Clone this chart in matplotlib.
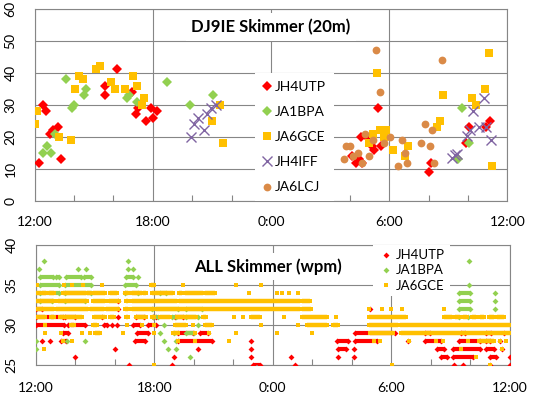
import matplotlib

matplotlib.use("Agg")
import matplotlib.pyplot as plt

plt.rcParams["font.family"] = ["Lato", "DejaVu Sans"]

# ---- palette (Excel 2007 defaults) ----------------------------------------------
RED = "#FF0000"
GREEN = "#92D050"
GOLD = "#FFC000"
PURPLE = "#8064A2"
ORANGE = "#DA8A47"
GRID = "#868686"

# x is hours after 12:00 (0 = 12:00, 12 = 0:00, 24 = next day 12:00)
TICK_HOURS = [0, 6, 12, 18, 24]
TICK_LABELS = ["12:00", "18:00", "0:00", "6:00", "12:00"]
MINOR_HOURS = [2, 4, 8, 10, 14, 16, 20, 22]

# ---- top panel: DJ9IE skimmer (20m), (hour, wpm) --------------------------------
JH4UTP_T = [(0.22, 12), (0.41, 30), (0.57, 28), (0.78, 21), (0.95, 22), (1.18, 23),
            (1.34, 13), (3.57, 36), (3.57, 33), (4.17, 41), (4.96, 34), (5.13, 27),
            (5.25, 29), (5.64, 25), (5.9, 29), (6.0, 26), (6.2, 28),
            (16.1, 14), (16.3, 12), (16.45, 13), (16.62, 12), (16.57, 20), (16.88, 20),
            (17.13, 17), (17.25, 16), (17.6, 17), (17.44, 29), (20.0, 9), (20.15, 12),
            (21.9, 18), (22.08, 23), (22.93, 23), (23.12, 25)]
JA1BPA_T = [(0.41, 15), (0.61, 17), (0.81, 15), (1.03, 21), (1.58, 38), (1.9, 29),
            (2.0, 30), (2.5, 33), (2.6, 35), (4.67, 32), (4.8, 33), (5.18, 31),
            (6.7, 37), (7.9, 30), (9.05, 33), (21.5, 13), (21.7, 29), (22.03, 18)]
JA6GCE_T = [(0.03, 24), (0.13, 28), (1.25, 20), (1.86, 19), (2.07, 35), (2.27, 39),
            (2.47, 38), (3.12, 41), (3.32, 42), (3.9, 37), (4.1, 35), (4.6, 35),
            (5.01, 39), (5.22, 36), (5.46, 30), (5.57, 32), (8.98, 25), (9.39, 30),
            (9.54, 18), (17.37, 40), (17.16, 21), (17.0, 18), (17.56, 22), (17.86, 22),
            (17.76, 20), (18.2, 16), (18.94, 17), (18.8, 14), (20.76, 33), (20.57, 25),
            (20.42, 23), (22.2, 32), (22.4, 30), (22.86, 35), (23.06, 46), (23.2, 11)]
JH4IFF_T = [(7.93, 20), (8.1, 24), (8.3, 26), (8.6, 22), (8.75, 27), (8.95, 29),
            (9.2, 30), (21.17, 13.5), (21.32, 14.3), (21.45, 14.6), (21.95, 20.3),
            (22.13, 22), (22.28, 28), (22.55, 23), (22.8, 32), (22.94, 23), (23.15, 19)]
JA6LCJ_T = [(15.69, 13), (15.83, 17), (16.03, 17), (16.17, 14), (16.42, 15),
            (16.62, 12), (16.79, 21), (16.96, 14), (17.18, 19), (17.32, 47), (17.52, 34),
            (17.72, 18), (18.03, 20), (18.43, 11), (18.66, 19), (18.78, 15), (18.91, 12),
            (19.6, 18), (19.8, 24), (20.06, 17), (20.17, 22), (20.27, 12), (20.67, 44)]

# ---- bottom panel: ALL skimmer (wpm), runs of spots (wpm, first hour, last hour) --
JH4UTP_B = [(33, 4.18, 4.18), (32, 0.0, 0.3), (32, 4.18, 4.18), (32, 16.93, 16.93),
            (31, 0.0, 1.4), (31, 1.48, 2.0), (31, 3.35, 3.35), (31, 4.18, 4.18),
            (31, 5.05, 5.48), (31, 5.93, 6.1), (31, 7.04, 7.46),
            (30, 0.0, 1.43), (30, 1.65, 2.5), (30, 3.46, 3.6), (30, 3.85, 3.85),
            (30, 4.1, 4.1), (30, 4.9, 5.3), (30, 5.7, 6.1),
            (29, 1.37, 1.65), (29, 5.11, 5.7), (29, 7.22, 7.98), (29, 8.3, 8.7),
            (29, 16.17, 18.2), (29, 19.7, 19.96), (29, 21.5, 21.7), (29, 22.8, 23.05),
            (29, 23.7, 23.7),
            (28, 0.3, 0.3), (28, 0.73, 0.73), (28, 1.3, 1.55), (28, 5.03, 5.53),
            (28, 7.22, 8.91), (28, 10.9, 10.9), (28, 15.24, 15.78), (28, 16.17, 17.27),
            (28, 18.84, 18.84), (28, 19.7, 20.5), (28, 21.4, 22.5), (28, 22.8, 23.0),
            (28, 23.5, 23.5),
            (27, 4.0, 4.0), (27, 8.23, 8.23), (27, 10.9, 10.9), (27, 15.3, 15.7),
            (27, 16.1, 16.1), (27, 20.3, 20.64), (27, 21.14, 22.5), (27, 22.8, 23.2),
            (27, 23.6, 23.6),
            (26, 2.0, 2.0), (26, 7.0, 7.0), (26, 10.9, 10.9), (26, 12.91, 12.91),
            (26, 15.32, 15.32), (26, 16.1, 16.1), (26, 20.5, 20.8), (26, 21.1, 22.15),
            (26, 23.0, 23.3), (26, 24.0, 24.0),
            (25, 4.7, 4.7), (25, 6.9, 6.9), (25, 11.0, 11.36), (25, 13.13, 13.13),
            (25, 21.15, 21.15), (25, 21.6, 21.6), (25, 23.0, 23.0), (25, 24.0, 24.0)]
JA1BPA_B = [(38, 0.42, 0.42), (38, 4.66, 4.66), (38, 21.95, 21.95),
            (37, 0.17, 0.17), (37, 2.16, 2.16), (37, 2.55, 2.55), (37, 4.66, 4.66),
            (37, 4.91, 4.91),
            (36, 0.2, 0.9), (36, 1.05, 1.2), (36, 1.55, 2.3), (36, 2.45, 2.8),
            (36, 4.55, 4.9), (36, 5.2, 5.2),
            (35, 0.2, 1.2), (35, 1.5, 2.8), (35, 4.5, 5.1), (35, 21.95, 21.95),
            (34, 0.2, 1.2), (34, 1.5, 2.8), (34, 4.5, 5.2), (34, 6.3, 6.6),
            (34, 21.4, 22.0), (34, 23.22, 23.22),
            (33, 0.2, 0.8), (33, 1.5, 2.5), (33, 21.4, 22.0), (33, 23.22, 23.22),
            (32, 5.9, 7.2), (32, 7.6, 8.4), (32, 21.4, 22.0), (32, 23.22, 23.22),
            (31, 5.96, 6.2), (31, 6.9, 7.1), (31, 7.6, 8.2), (31, 21.4, 21.4),
            (31, 21.9, 21.9),
            (30, 6.5, 6.5), (30, 8.2, 8.2),
            (29, 6.3, 6.3), (29, 7.0, 7.0), (29, 7.6, 8.0),
            (28, 0.0, 0.0), (28, 1.6, 1.6), (28, 2.5, 2.5), (28, 6.5, 6.5), (28, 7.1, 7.1),
            (27, 0.0, 0.0), (27, 6.7, 6.7), (27, 7.1, 7.1),
            (26, 7.8, 7.8)]
JA6GCE_B = [(35, 0.05, 0.05), (35, 1.45, 1.45), (35, 1.83, 1.83), (35, 2.38, 2.38),
            (35, 3.34, 3.34), (35, 5.85, 6.0), (35, 7.44, 7.44), (35, 10.14, 10.14),
            (35, 11.41, 11.41),
            (34, 0.0, 0.2), (34, 0.33, 0.52), (34, 0.69, 0.94), (34, 1.4, 2.53),
            (34, 2.6, 2.8), (34, 2.92, 3.5), (34, 3.76, 4.13), (34, 4.53, 4.67),
            (34, 4.86, 5.37), (34, 5.45, 5.6), (34, 5.87, 6.94), (34, 7.24, 7.4),
            (34, 7.56, 8.49), (34, 8.57, 9.08), (34, 10.8, 10.8), (34, 12.2, 12.2),
            (34, 12.46, 12.46), (34, 12.83, 12.83), (34, 13.25, 13.25),
            (33, 0.0, 0.93), (33, 1.14, 2.61), (33, 2.92, 3.5), (33, 3.73, 4.23),
            (33, 4.55, 4.65), (33, 4.86, 7.15), (33, 7.25, 13.38), (33, 13.5, 13.9),
            (32, 0.0, 0.93), (32, 1.03, 2.66), (32, 2.76, 3.46), (32, 3.56, 4.18),
            (32, 4.53, 4.67), (32, 4.86, 6.0), (32, 6.1, 13.38), (32, 13.5, 13.94),
            (32, 16.88, 16.88), (32, 17.5, 17.5), (32, 18.0, 18.0), (32, 18.53, 18.53),
            (32, 20.64, 20.64),
            (31, 0.0, 0.45), (31, 0.78, 0.93), (31, 1.25, 2.33), (31, 2.95, 3.5),
            (31, 3.76, 3.95), (31, 4.55, 4.67), (31, 5.1, 5.6), (31, 5.87, 6.0),
            (31, 6.29, 6.8), (31, 7.14, 8.11), (31, 8.45, 8.6), (31, 10.05, 10.05),
            (31, 10.5, 10.5), (31, 10.9, 11.36), (31, 12.54, 12.54), (31, 13.5, 14.73),
            (31, 15.19, 15.19), (31, 16.84, 18.75), (31, 20.67, 21.06), (31, 21.2, 21.4),
            (31, 21.6, 21.8), (31, 22.1, 22.3), (31, 22.5, 22.7), (31, 22.95, 23.2),
            (31, 23.35, 23.7),
            (30, 0.47, 0.47), (30, 1.8, 1.95), (30, 2.9, 3.1), (30, 4.6, 4.6),
            (30, 5.4, 5.4), (30, 6.0, 6.0), (30, 7.05, 7.6), (30, 7.95, 7.95),
            (30, 8.57, 8.9), (30, 11.4, 11.4), (30, 13.25, 13.25), (30, 13.75, 14.73),
            (30, 15.05, 15.3), (30, 16.84, 18.35), (30, 18.45, 24.0),
            (29, 0.47, 0.47), (29, 1.3, 1.3), (29, 2.33, 2.33), (29, 2.74, 2.74),
            (29, 3.0, 3.26), (29, 4.4, 4.4), (29, 6.0, 6.0), (29, 6.96, 7.2),
            (29, 8.04, 8.04), (29, 8.77, 8.77), (29, 10.14, 10.14), (29, 12.2, 12.2),
            (29, 13.97, 13.97), (29, 16.9, 18.1), (29, 18.5, 24.0),
            (28, 1.4, 1.4), (28, 1.85, 1.85), (28, 7.19, 7.19), (28, 8.04, 8.04),
            (28, 9.79, 9.79), (28, 17.1, 17.1), (28, 17.4, 17.4), (28, 18.87, 18.87),
            (28, 20.27, 20.27), (28, 20.6, 20.6), (28, 21.85, 21.85), (28, 22.41, 23.17),
            (28, 23.5, 23.5), (28, 23.8, 23.8),
            (27, 0.4, 0.4), (27, 21.52, 21.52), (27, 23.6, 23.6),
            (26, 22.3, 22.3),
            (25, 6.0, 6.0), (25, 18.03, 18.03), (25, 23.0, 23.0)]


def style_axis(ax, yticks):
    ax.set_xlim(0, 24)
    ax.set_xticks(TICK_HOURS)
    ax.set_xticklabels(TICK_LABELS)
    ax.set_xticks(MINOR_HOURS, minor=True)
    ax.set_yticks(yticks)
    ax.set_ylim(yticks[0], yticks[-1])
    ax.grid(True, which="major", color=GRID, linewidth=0.8)
    ax.set_axisbelow(True)
    for side in ax.spines.values():
        side.set_color(GRID)
        side.set_linewidth(0.8)
    ax.tick_params(axis="both", which="major", length=0, labelsize=10)
    ax.tick_params(axis="x", which="minor", direction="in", length=4, color=GRID, width=0.8)
    ax.tick_params(axis="y", labelrotation=90, pad=13)
    for lab in ax.get_yticklabels():
        lab.set_va("center")


def draw_runs(ax, runs, color, marker, ms, lw, label, z):
    # a run is a string of spots at one speed: marker at each end, bar in between
    xs = [a for _, a, _ in runs] + [b for _, a, b in runs if b > a]
    ys = [v for v, _, _ in runs] + [v for v, a, b in runs if b > a]
    long_runs = [r for r in runs if r[2] > r[1]]
    ax.hlines([r[0] for r in long_runs], [r[1] for r in long_runs], [r[2] for r in long_runs],
              colors=color, linewidth=lw, zorder=z)
    ax.plot(xs, ys, ls="none", marker=marker, ms=ms, mfc=color, mec=color, mew=0,
            label=label, zorder=z)


fig = plt.figure(figsize=(5.34, 3.98), dpi=100)

# ---- top panel --------------------------------------------------------------------
ax1 = fig.add_axes([34.7 / 534, 1 - 201 / 398, 472.6 / 534, 192.5 / 398])
style_axis(ax1, [0, 10, 20, 30, 40, 50, 60])
ax1.tick_params(axis="x", pad=11)

series_top = [
    (JH4UTP_T, "JH4UTP", dict(marker="D", ms=4.9, mfc=RED, mec=RED, mew=0)),
    (JA1BPA_T, "JA1BPA", dict(marker="D", ms=4.9, mfc=GREEN, mec=GREEN, mew=0)),
    (JA6GCE_T, "JA6GCE", dict(marker="s", ms=5.5, mfc=GOLD, mec=GOLD, mew=0)),
    (JH4IFF_T, "JH4IFF", dict(marker="x", ms=7.5, mec=PURPLE, mew=1.0)),
    (JA6LCJ_T, "JA6LCJ", dict(marker="o", ms=5.6, mfc=ORANGE, mec=ORANGE, mew=0)),
]
for z, (pts, name, style) in enumerate(series_top):
    ax1.plot([p[0] for p in pts], [p[1] for p in pts], ls="none", label=name,
             zorder=3 + z, **style)

ax1.text(0.5, 0.905, "DJ9IE Skimmer (20m)", transform=ax1.transAxes, ha="center",
         va="center", fontsize=12, fontweight="bold", zorder=10,
         bbox=dict(boxstyle="square,pad=0.35", facecolor="white", edgecolor="none"))
leg1 = ax1.legend(loc="lower left", bbox_to_anchor=(0.466, 0.0), fontsize=10,
                  frameon=True, fancybox=False, framealpha=1, facecolor="white",
                  edgecolor="none", borderpad=0.55, labelspacing=0.95,
                  handlelength=0.6, handletextpad=0.3, borderaxespad=0)
leg1.set_zorder(10)

# ---- bottom panel -----------------------------------------------------------------
ax2 = fig.add_axes([35.7 / 534, 1 - 365 / 398, 474.3 / 534, 120.3 / 398])
style_axis(ax2, [25, 30, 35, 40])
ax2.tick_params(axis="x", pad=12)

draw_runs(ax2, JH4UTP_B, RED, "D", 3.0, 3.0, "JH4UTP", 3)
draw_runs(ax2, JA1BPA_B, GREEN, "D", 3.0, 3.0, "JA1BPA", 4)
draw_runs(ax2, JA6GCE_B, GOLD, "s", 3.4, 3.2, "JA6GCE", 5)

ax2.text(0.49, 0.82, "ALL Skimmer (wpm)", transform=ax2.transAxes, ha="center",
         va="center", fontsize=12, fontweight="bold", zorder=10,
         bbox=dict(boxstyle="square,pad=0.3", facecolor="white", edgecolor="none"))
leg2 = ax2.legend(loc="upper left", bbox_to_anchor=((373 - 35.7) / 474.3, 1.0), fontsize=9.5,
                  frameon=True, fancybox=False, framealpha=1, facecolor="white",
                  edgecolor="none", borderpad=0.35, labelspacing=0.24,
                  handlelength=1.2, handletextpad=0.2, borderaxespad=0)
leg2.set_zorder(10)

fig.savefig("out.png", dpi=100, facecolor="white")
